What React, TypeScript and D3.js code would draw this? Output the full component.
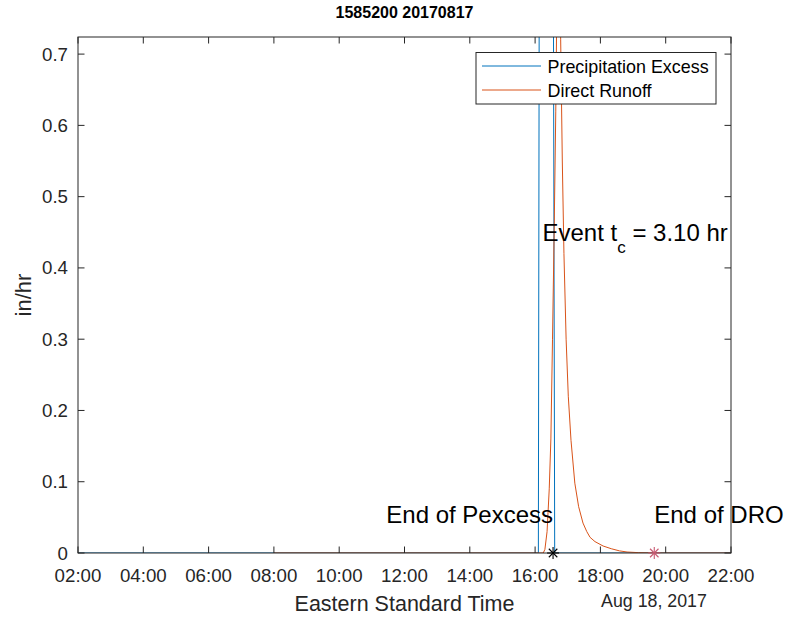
import React from "react";
import * as d3 from "d3";

const title = "1585200 20170817";
const xTickLabels = ["02:00", "04:00", "06:00", "08:00", "10:00", "12:00", "14:00", "16:00", "18:00", "20:00", "22:00"];
const yTicks = [0, 0.1, 0.2, 0.3, 0.4, 0.5, 0.6, 0.7];

const pexTimes = ["02:00", "16:06", "16:09", "16:15", "16:21", "16:27", "16:33", "16:36", "22:00"];
const pexValues = [0, 0, 1.5, 2.0, 1.8, 1.3, 1.0, 0, 0];

const droTimes = ["08:00", "16:15", "16:18", "16:22", "16:26", "16:29", "16:32", "16:35", "16:38", "16:41", "16:44", "16:47", "16:50", "16:53", "16:57", "17:01", "17:06", "17:13", "17:20", "17:28", "17:35", "17:41", "17:50", "18:05", "18:20", "18:35", "18:49", "19:10", "19:39", "22:00"];
const droValues = [0, 0, 0.005, 0.03, 0.09, 0.16, 0.3, 0.45, 0.62, 0.85, 0.95, 0.72, 0.55, 0.42, 0.3, 0.22, 0.158, 0.098, 0.065, 0.042, 0.03, 0.022, 0.016, 0.0098, 0.006, 0.003, 0.0014, 0.0005, 0, 0];

const pexEnd = "16:33";
const droEnd = "19:39";
const tcText = "3.10";

const toDate = (s: string) => {
  const [h, m] = s.split(":").map(Number);
  return new Date(2017, 7, 17, h, m);
};

const W = 788, H = 617;
const L = 78, R = 731, T = 37, B = 553;
const FONT = "'Liberation Sans', Arial, Helvetica, sans-serif";
const AX = "#262626";
const BLUE = "#0072BD";
const ORANGE = "#D95319";

function Star({ x, y, color }: { x: number; y: number; color: string }) {
  const r = 6;
  const d = r * 0.707;
  return (
    <g stroke={color} strokeWidth={1.1}>
      <line x1={x - r} y1={y} x2={x + r} y2={y} />
      <line x1={x} y1={y - r} x2={x} y2={y + r} />
      <line x1={x - d} y1={y - d} x2={x + d} y2={y + d} />
      <line x1={x - d} y1={y + d} x2={x + d} y2={y - d} />
    </g>
  );
}

export default function App() {
  const x = d3.scaleTime().domain([toDate("02:00"), toDate("22:00")]).range([L, R]);
  const y = d3.scaleLinear().domain([0, 0.724]).range([B, T]);
  const line = d3
    .line<[Date, number]>()
    .x((d) => x(d[0]))
    .y((d) => y(d[1]));
  const pex: [Date, number][] = pexTimes.map((t, i) => [toDate(t), pexValues[i]]);
  const dro: [Date, number][] = droTimes.map((t, i) => [toDate(t), droValues[i]]);
  const tl = 6.5;

  return (
    <svg width={W} height={H} style={{ position: "absolute", left: 0, top: 0, background: "#fff" }} fontFamily={FONT}>
      <rect x={0} y={0} width={W} height={H} fill="#fff" />
      <defs>
        <clipPath id="plotclip">
          <rect x={L} y={T} width={R - L} height={B - T} />
        </clipPath>
      </defs>
      <g clipPath="url(#plotclip)">
        <path d={line(pex) || ""} fill="none" stroke={BLUE} strokeWidth={1} />
        <path d={line(dro) || ""} fill="none" stroke={ORANGE} strokeWidth={1} />
      </g>
      {/* axes box */}
      <rect x={L} y={T} width={R - L} height={B - T} fill="none" stroke={AX} strokeWidth={1} />
      {xTickLabels.map((t) => {
        const xx = x(toDate(t));
        return (
          <g key={t}>
            <line x1={xx} y1={B} x2={xx} y2={B - tl} stroke={AX} />
            <line x1={xx} y1={T} x2={xx} y2={T + tl} stroke={AX} />
            <text x={xx} y={582} textAnchor="middle" fontSize={18.7} fill={AX}>{t}</text>
          </g>
        );
      })}
      {yTicks.map((v) => {
        const yy = y(v);
        return (
          <g key={v}>
            <line x1={L} y1={yy} x2={L + tl} y2={yy} stroke={AX} />
            <line x1={R} y1={yy} x2={R - tl} y2={yy} stroke={AX} />
            <text x={68} y={yy + 6.5} textAnchor="end" fontSize={18.7} fill={AX}>{String(v)}</text>
          </g>
        );
      })}
      <text x={(L + R) / 2} y={18} textAnchor="middle" fontSize={16} fontWeight="bold" fill="#000">{title}</text>
      <text x={(L + R) / 2} y={611} textAnchor="middle" fontSize={21.5} fill={AX}>Eastern Standard Time</text>
      <text x={654} y={607} textAnchor="middle" fontSize={17.8} fill={AX}>Aug 18, 2017</text>
      <text transform={`translate(31,${(T + B) / 2}) rotate(-90)`} textAnchor="middle" fontSize={22} fill={AX}>in/hr</text>

      {/* annotations */}
      <Star x={x(toDate(pexEnd))} y={y(0)} color="#000" />
      <Star x={x(toDate(droEnd))} y={y(0)} color="#c85a72" />
      <text x={x(toDate(pexEnd))} y={523} textAnchor="end" fontSize={24} fill="#000">End of Pexcess</text>
      <text x={x(toDate(droEnd))} y={523} textAnchor="start" fontSize={24} fill="#000">End of DRO</text>
      <text x={542.5} y={241} fontSize={24} fill="#000">
        Event t<tspan fontSize={17} dy={12}>c</tspan><tspan dy={-12}>{` = ${tcText} hr`}</tspan>
      </text>

      {/* legend */}
      <rect x={476} y={52.5} width={240} height={51.5} fill="#fff" stroke={AX} strokeWidth={1} />
      <line x1={482} y1={66} x2={541} y2={66} stroke={BLUE} strokeWidth={1} />
      <line x1={482} y1={90} x2={541} y2={90} stroke={ORANGE} strokeWidth={1} />
      <text x={547.5} y={72.5} fontSize={17.9} fill="#000">Precipitation Excess</text>
      <text x={547.5} y={96.5} fontSize={17.9} fill="#000">Direct Runoff</text>
    </svg>
  );
}
